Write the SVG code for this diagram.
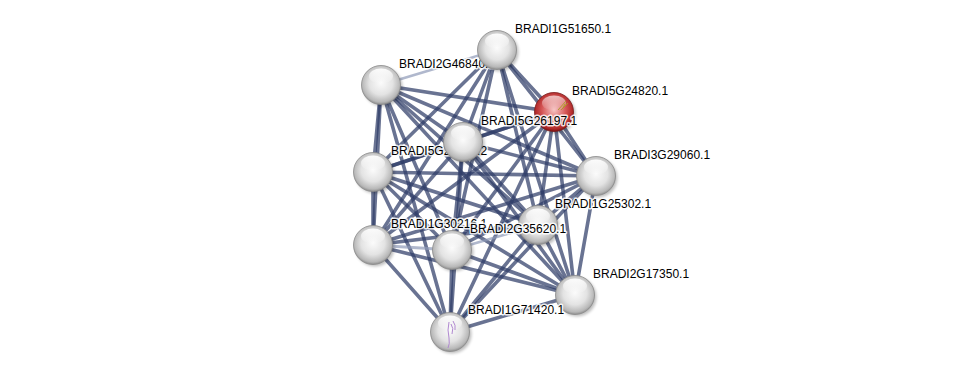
<svg xmlns="http://www.w3.org/2000/svg" width="976" height="376" viewBox="0 0 976 376">
<defs>
<radialGradient id="gray" cx="50%" cy="45%" r="55%">
<stop offset="0" stop-color="#fbfbfb"/>
<stop offset="0.55" stop-color="#e3e3e3"/>
<stop offset="0.88" stop-color="#b8b8b8"/>
<stop offset="1" stop-color="#8e8e8e"/>
</radialGradient>
<radialGradient id="red" cx="50%" cy="45%" r="55%">
<stop offset="0" stop-color="#f6c4c4"/>
<stop offset="0.55" stop-color="#d65858"/>
<stop offset="0.88" stop-color="#b02828"/>
<stop offset="1" stop-color="#7c1010"/>
</radialGradient>
<linearGradient id="glare" x1="0" y1="0" x2="0" y2="1">
<stop offset="0" stop-color="#fff" stop-opacity="0.95"/>
<stop offset="1" stop-color="#fff" stop-opacity="0.05"/>
</linearGradient>
<filter id="blur" x="-30%" y="-30%" width="160%" height="160%"><feGaussianBlur stdDeviation="1.5"/></filter>
<style>
.e{stroke:#2f3d68;stroke-width:3.6;stroke-opacity:0.72;stroke-linecap:round;fill:none}
.el{stroke:#8f9ab8;stroke-width:2.8;stroke-opacity:0.7;stroke-linecap:round}
.sh{fill:#000;opacity:0.25;filter:url(#blur)}
.nd{fill:url(#gray);stroke:#8a8a8a;stroke-width:0.8}
.ndr{fill:url(#red);stroke:#7a1a1a;stroke-width:0.8}
.gl{fill:url(#glare)}
.lb{font-family:"Liberation Sans",Arial,sans-serif;font-size:12px;fill:#000;stroke:#fff;stroke-width:3;stroke-opacity:0.85;paint-order:stroke;stroke-linejoin:round}
</style>
</defs>
<rect width="976" height="376" fill="#fff"/>
<g id="edges">
<line class="el" x1="497" y1="50" x2="381" y2="85"/>
<line class="e" x1="497" y1="50" x2="554" y2="112"/>
<line class="e" x1="497" y1="50" x2="463" y2="142"/>
<line class="e" x1="497" y1="50" x2="373" y2="172"/>
<line class="e" x1="497" y1="50" x2="596" y2="176"/>
<line class="e" x1="497" y1="50" x2="538" y2="225"/>
<line class="e" x1="497" y1="50" x2="373" y2="245"/>
<line class="e" x1="497" y1="50" x2="452" y2="250"/>
<line class="e" x1="497" y1="50" x2="575" y2="295"/>
<line class="e" x1="381" y1="85" x2="554" y2="112"/>
<line class="e" x1="381" y1="85" x2="463" y2="142"/>
<line class="e" x1="381" y1="85" x2="373" y2="172"/>
<line class="e" x1="381" y1="85" x2="596" y2="176"/>
<line class="e" x1="381" y1="85" x2="538" y2="225"/>
<line class="e" x1="381" y1="85" x2="373" y2="245"/>
<line class="e" x1="381" y1="85" x2="452" y2="250"/>
<line class="e" x1="381" y1="85" x2="575" y2="295"/>
<line class="e" x1="381" y1="85" x2="450" y2="332"/>
<line class="e" x1="554" y1="112" x2="463" y2="142"/>
<line class="e" x1="554" y1="112" x2="373" y2="172"/>
<line class="e" x1="554" y1="112" x2="596" y2="176"/>
<line class="e" x1="554" y1="112" x2="538" y2="225"/>
<line class="e" x1="554" y1="112" x2="373" y2="245"/>
<line class="e" x1="554" y1="112" x2="452" y2="250"/>
<line class="e" x1="554" y1="112" x2="575" y2="295"/>
<line class="e" x1="554" y1="112" x2="450" y2="332"/>
<line class="e" x1="463" y1="142" x2="373" y2="172"/>
<line class="e" x1="463" y1="142" x2="596" y2="176"/>
<line class="e" x1="463" y1="142" x2="538" y2="225"/>
<line class="e" x1="463" y1="142" x2="373" y2="245"/>
<line class="e" x1="463" y1="142" x2="452" y2="250"/>
<line class="e" x1="463" y1="142" x2="575" y2="295"/>
<line class="e" x1="463" y1="142" x2="450" y2="332"/>
<line class="e" x1="373" y1="172" x2="596" y2="176"/>
<line class="e" x1="373" y1="172" x2="538" y2="225"/>
<line class="e" x1="373" y1="172" x2="373" y2="245"/>
<line class="e" x1="373" y1="172" x2="452" y2="250"/>
<line class="e" x1="373" y1="172" x2="575" y2="295"/>
<line class="e" x1="373" y1="172" x2="450" y2="332"/>
<line class="e" x1="596" y1="176" x2="538" y2="225"/>
<line class="e" x1="596" y1="176" x2="373" y2="245"/>
<line class="e" x1="596" y1="176" x2="452" y2="250"/>
<line class="e" x1="596" y1="176" x2="575" y2="295"/>
<line class="e" x1="596" y1="176" x2="450" y2="332"/>
<line class="e" x1="538" y1="225" x2="373" y2="245"/>
<line class="el" x1="538" y1="225" x2="452" y2="250"/>
<line class="e" x1="538" y1="225" x2="575" y2="295"/>
<line class="e" x1="538" y1="225" x2="450" y2="332"/>
<line class="el" x1="373" y1="245" x2="452" y2="250"/>
<line class="e" x1="373" y1="245" x2="575" y2="295"/>
<line class="e" x1="373" y1="245" x2="450" y2="332"/>
<line class="e" x1="452" y1="250" x2="575" y2="295"/>
<line class="e" x1="452" y1="250" x2="450" y2="332"/>
<line class="e" x1="575" y1="295" x2="450" y2="332"/>
</g>
<g id="node-BRADI2G46840">
<circle class="sh" cx="383" cy="87" r="19.5"/>
<circle class="nd" cx="381" cy="85" r="19.5"/>
<ellipse class="gl" cx="381" cy="76" rx="12" ry="7.5"/>
<text class="lb" x="399" y="67.5">BRADI2G46840.1</text>
</g>
<g id="node-BRADI1G51650">
<circle class="sh" cx="499" cy="52" r="19.5"/>
<circle class="nd" cx="497" cy="50" r="19.5"/>
<ellipse class="gl" cx="497" cy="41" rx="12" ry="7.5"/>
<text class="lb" x="515" y="32.5">BRADI1G51650.1</text>
</g>
<g id="node-BRADI5G2">
<circle class="sh" cx="375" cy="174" r="19.5"/>
<circle class="nd" cx="373" cy="172" r="19.5"/>
<ellipse class="gl" cx="373" cy="163" rx="12" ry="7.5"/>
<text class="lb" x="391" y="154.5">BRADI5G25920.2</text>
</g>
<g id="node-BRADI5G24820">
<circle class="sh" cx="556" cy="114" r="19.5"/>
<circle class="ndr" cx="554" cy="112" r="19.5"/>
<ellipse class="gl" cx="554" cy="103" rx="12" ry="7.5" opacity="0.7"/>
<path d="M558 110 L566 101 M561 110 L568 103 M563 108 L565 104" stroke="#a8a020" stroke-width="0.9" fill="none"/>
<text class="lb" x="572" y="94.5">BRADI5G24820.1</text>
</g>
<g id="node-BRADI5G26197">
<circle class="sh" cx="465" cy="144" r="19.5"/>
<circle class="nd" cx="463" cy="142" r="19.5"/>
<ellipse class="gl" cx="463" cy="133" rx="12" ry="7.5"/>
<text class="lb" x="481" y="124.5">BRADI5G26197.1</text>
</g>
<g id="node-BRADI1G30216">
<circle class="sh" cx="375" cy="247" r="19.5"/>
<circle class="nd" cx="373" cy="245" r="19.5"/>
<ellipse class="gl" cx="373" cy="236" rx="12" ry="7.5"/>
<text class="lb" x="391" y="227.5">BRADI1G30216.1</text>
</g>
<g id="node-BRADI1G25302">
<circle class="sh" cx="540" cy="227" r="19.5"/>
<circle class="nd" cx="538" cy="225" r="19.5"/>
<ellipse class="gl" cx="538" cy="216" rx="12" ry="7.5"/>
<text class="lb" x="555" y="207.5">BRADI1G25302.1</text>
</g>
<g id="node-BRADI2G35620">
<circle class="sh" cx="454" cy="252" r="19.5"/>
<circle class="nd" cx="452" cy="250" r="19.5"/>
<ellipse class="gl" cx="452" cy="241" rx="12" ry="7.5"/>
<text class="lb" x="470" y="232.5">BRADI2G35620.1</text>
</g>
<g id="node-BRADI3G29060">
<circle class="sh" cx="598" cy="178" r="19.5"/>
<circle class="nd" cx="596" cy="176" r="19.5"/>
<ellipse class="gl" cx="596" cy="167" rx="12" ry="7.5"/>
<text class="lb" x="614" y="158.5">BRADI3G29060.1</text>
</g>
<g id="node-BRADI2G17350">
<circle class="sh" cx="577" cy="297" r="19.5"/>
<circle class="nd" cx="575" cy="295" r="19.5"/>
<ellipse class="gl" cx="575" cy="286" rx="12" ry="7.5"/>
<text class="lb" x="593" y="277.5">BRADI2G17350.1</text>
</g>
<g id="node-BRADI1G71420">
<circle class="sh" cx="452" cy="334" r="19.5"/>
<circle class="nd" cx="450" cy="332" r="19.5"/>
<ellipse class="gl" cx="450" cy="323" rx="12" ry="7.5"/>
<path d="M449 322 Q447 330 449 338 Q450 344 448 348 M451 324 Q454 328 452 334 M453 321 Q456 325 455 330" stroke="#b088d0" stroke-width="1" fill="none"/>
<text class="lb" x="468" y="313.5">BRADI1G71420.1</text>
</g>
</svg>
